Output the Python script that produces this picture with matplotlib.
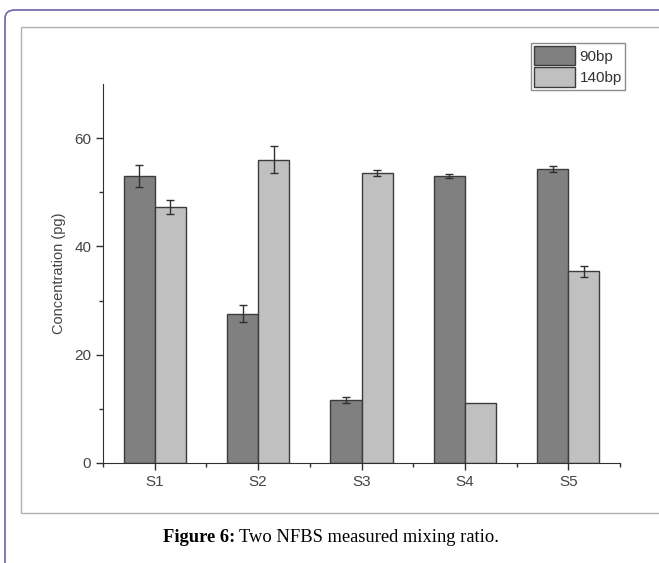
import matplotlib
matplotlib.use('Agg')
import matplotlib.pyplot as plt
import numpy as np
from matplotlib.patches import FancyBboxPatch, Rectangle

samples = ['S1', 'S2', 'S3', 'S4', 'S5']
conc_90 = [53.0, 27.6, 11.6, 53.0, 54.3]
err_90 = [2.0, 1.6, 0.5, 0.4, 0.5]
conc_140 = [47.3, 56.0, 53.6, 11.0, 35.4]
err_140 = [1.3, 2.5, 0.5, 0.0, 1.0]

dark = '#808080'
light = '#c0c0c0'
edge = '#3c3c3c'

plt.rcParams['font.family'] = ['Liberation Sans', 'DejaVu Sans']

fig = plt.figure(figsize=(6.59, 5.63), dpi=100)

# page frame (outer rounded border + inner grey box)
outer = FancyBboxPatch((5 / 659, -0.05), 1.2, 1 - 10 / 563 + 0.05,
                       boxstyle='round,pad=0,rounding_size=0.015',
                       transform=fig.transFigure, fill=False,
                       edgecolor='#6b63a8', linewidth=1.2, zorder=0)
fig.patches.append(outer)
inner = Rectangle((21 / 659, 1 - 513 / 563), 1.0, (513 - 27) / 563,
                  transform=fig.transFigure, fill=False,
                  edgecolor='#b0b0b8', linewidth=1.0, zorder=0)
fig.patches.append(inner)

ax = fig.add_axes([103 / 659, 1 - 463 / 563, (620 - 103) / 659, (463 - 84) / 563])
ax.patch.set_alpha(0)

x = np.arange(1, len(samples) + 1)
w = 0.3
ekw = dict(ecolor='#303030', elinewidth=1.0, capsize=3, capthick=1.0)
ax.bar(x - w / 2, conc_90, w, yerr=err_90, color=dark, edgecolor=edge,
       linewidth=1.0, label='90bp', error_kw=ekw)
ax.bar(x + w / 2, conc_140, w, yerr=[e if e > 0 else np.nan for e in err_140],
       color=light, edgecolor=edge, linewidth=1.0, label='140bp', error_kw=ekw)

ax.set_xlim(0.5, 5.5)
ax.set_ylim(0, 70)
ax.set_xticks(x)
ax.set_xticklabels(samples)
ax.set_xticks(np.arange(0.5, 6.0, 1.0), minor=True)
ax.set_yticks([0, 20, 40, 60])
ax.set_yticks([10, 30, 50], minor=True)
for s in ['top', 'right']:
    ax.spines[s].set_visible(False)
for s in ['left', 'bottom']:
    ax.spines[s].set_color('#303030')
ax.tick_params(which='major', length=5, width=1, colors='#303030',
               labelsize=11, labelcolor='#444444')
ax.tick_params(which='minor', length=3, width=1, colors='#303030')
ax.set_ylabel('Concentration (pg)', fontsize=10.5, color='#444444', labelpad=6)

leg = ax.legend(loc='upper right', bbox_to_anchor=(625 / 659, 1 - 43 / 563),
                bbox_transform=fig.transFigure, fontsize=11, frameon=True,
                fancybox=False, edgecolor='#707070', handlelength=2.7,
                handleheight=1.55, handletextpad=0.3, borderpad=0.2,
                labelspacing=0.15, borderaxespad=0)
leg.get_frame().set_linewidth(1.0)
for t in leg.get_texts():
    t.set_color('#333333')

# caption
t1 = fig.text(163 / 659, 1 - 537 / 563, 'Figure 6:', fontsize=13.3,
              fontweight='bold', family='Liberation Serif', va='center')
fig.canvas.draw()
bb = t1.get_window_extent()
fig.text((bb.x1 + 4) / 659, 1 - 537 / 563, 'Two NFBS measured mixing ratio.',
         fontsize=13.3, family='Liberation Serif', va='center')

fig.savefig('out.png', dpi=100)
